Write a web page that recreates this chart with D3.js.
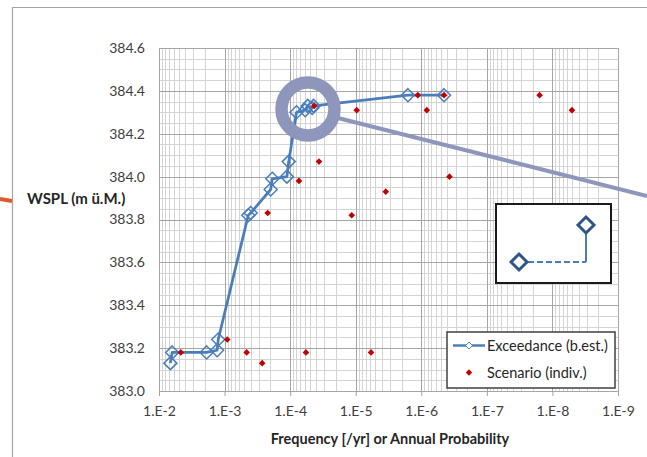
<!DOCTYPE html>
<html>
<head>
<meta charset="utf-8">
<script src="https://cdn.jsdelivr.net/npm/d3@7"></script>
<style>
  body { margin: 0; background: #fff; }
  svg { display: block; font-family: Lato, "Open Sans", sans-serif; }
</style>
</head>
<body>
<div id="container"></div>
<script>
// axis ticks
var xTicks = [1e-2, 1e-3, 1e-4, 1e-5, 1e-6, 1e-7, 1e-8, 1e-9];
var xTickLabels = ["1.E-2", "1.E-3", "1.E-4", "1.E-5", "1.E-6", "1.E-7", "1.E-8", "1.E-9"];
var yTicks = [383.0, 383.2, 383.4, 383.6, 383.8, 384.0, 384.2, 384.4, 384.6];

// Exceedance (best estimate) curve
var exceedFreq = [4.5e-7, 1.6e-6, 4.4e-5, 4.6e-5, 5.4e-5, 5.9e-5, 8.0e-5, 1.05e-4, 1.12e-4, 1.87e-4, 1.98e-4,
  4.0e-4, 4.35e-4, 1.25e-3, 1.3e-3, 1.88e-3, 6.3e-3, 6.7e-3];
var exceedLevel = [384.38, 384.38, 384.33, 384.32, 384.33, 384.31, 384.30, 384.07, 384.00, 383.99, 383.94,
  383.83, 383.82, 383.24, 383.19, 383.18, 383.18, 383.13];

// individual scenarios
var scenFreq = [4.65e-3, 9.1e-4, 4.6e-4, 2.67e-4, 5.74e-5, 2.2e-4, 1.15e-5, 4.29e-5, 9.66e-6, 3.63e-5,
  7.34e-5, 1.13e-6, 8.24e-7, 4.49e-7, 1.57e-8, 5.04e-9, 3.72e-7, 3.48e-6, 5.84e-6];
var scenLevel = [383.18, 383.24, 383.18, 383.13, 383.18, 383.83, 383.82, 384.33, 384.31, 384.07,
  383.98, 384.38, 384.31, 384.38, 384.38, 384.31, 384.00, 383.93, 383.18];

var W = 647, H = 457;
var margin = { top: 48, right: 29, bottom: 66, left: 159 };
var width = W - margin.left - margin.right,
  height = H - margin.top - margin.bottom;

var blue = "#4A7EBB", red = "#C00000", ring = "#8E97BB";

function diamond(r) {
  return "M0," + (-r) + "L" + r + ",0L0," + r + "L" + (-r) + ",0Z";
}

var svg = d3.select("#container").append("svg")
  .attr("width", W)
  .attr("height", H);

// outer frame (continues past the right/bottom edge)
svg.append("path")
  .attr("d", "M12.5," + H + "V7.5H" + W)
  .attr("fill", "none")
  .attr("stroke", "#A6A6A6")
  .attr("stroke-width", 1.2);

// orange connector on the left
svg.append("line")
  .attr("x1", 0).attr("y1", 199).attr("x2", 12).attr("y2", 201)
  .attr("stroke", "#E2572B").attr("stroke-width", 4);

var g = svg.append("g")
  .attr("transform", "translate(" + margin.left + "," + margin.top + ")");

var x = d3.scaleLog().domain([1e-2, 1e-9]).range([0, width]);
var y = d3.scaleLinear().domain([383.0, 384.6]).range([height, 0]);

// minor grid
var xMinor = [];
for (var e = -9; e < -2; e++) {
  for (var m = 2; m <= 9; m++) xMinor.push(m * Math.pow(10, e));
}
var yMinor = d3.range(0, 33).map(function (i) { return 383.0 + i * 0.05; })
  .filter(function (v, i) { return i % 4 != 0; });

g.selectAll(".xminor").data(xMinor).enter().append("line")
  .attr("x1", function (d) { return Math.round(x(d)) + 0.5; })
  .attr("x2", function (d) { return Math.round(x(d)) + 0.5; })
  .attr("y1", 0).attr("y2", height)
  .attr("stroke", "#D4D4D4");

g.selectAll(".yminor").data(yMinor).enter().append("line")
  .attr("y1", function (d) { return Math.round(y(d)) + 0.5; })
  .attr("y2", function (d) { return Math.round(y(d)) + 0.5; })
  .attr("x1", 0).attr("x2", width)
  .attr("stroke", "#D4D4D4");

// major grid
g.selectAll(".xmajor").data(xTicks).enter().append("line")
  .attr("x1", function (d) { return Math.round(x(d)) + 0.5; })
  .attr("x2", function (d) { return Math.round(x(d)) + 0.5; })
  .attr("y1", 0).attr("y2", height)
  .attr("stroke", "#A6A6A6");

g.selectAll(".ymajor").data(yTicks).enter().append("line")
  .attr("y1", function (d) { return Math.round(y(d)) + 0.5; })
  .attr("y2", function (d) { return Math.round(y(d)) + 0.5; })
  .attr("x1", 0).attr("x2", width)
  .attr("stroke", "#A6A6A6");

// X axis
var xAxis = d3.axisBottom(x)
  .tickValues(xTicks)
  .tickSize(5)
  .tickSizeOuter(0)
  .tickPadding(10)
  .tickFormat(function (d, i) { return xTickLabels[i]; });

var gx = g.append("g")
  .attr("transform", "translate(0," + height + ")")
  .call(xAxis);
gx.select(".domain").attr("stroke", "#A6A6A6");
gx.selectAll(".tick line").attr("stroke", "#A6A6A6");
gx.selectAll("text").attr("font-size", 14).attr("fill", "#404040")
  .attr("font-family", "Lato, sans-serif");

// Y axis
var yAxis = d3.axisLeft(y)
  .tickValues(yTicks)
  .tickSize(0)
  .tickPadding(14)
  .tickFormat(d3.format(".1f"));

var gy = g.append("g").call(yAxis);
gy.select(".domain").attr("stroke", "#A6A6A6");
gy.selectAll("text").attr("font-size", 14).attr("fill", "#404040")
  .attr("font-family", "Lato, sans-serif");

// axis titles
svg.append("text")
  .attr("x", 390).attr("y", 444)
  .attr("text-anchor", "middle")
  .attr("font-size", 14.5).attr("font-weight", "bold").attr("fill", "#262626")
  .text("Frequency [/yr] or Annual Probability");

svg.append("text")
  .attr("x", 27).attr("y", 204)
  .attr("font-size", 15).attr("font-weight", "bold").attr("fill", "#262626")
  .text("WSPL (m ü.M.)");

// exceedance line
var valueline = d3.line()
  .x(function (d) { return x(d[0]); })
  .y(function (d) { return y(d[1]); });

var exceed = exceedFreq.map(function (f, i) { return [f, exceedLevel[i]]; });
var scen = scenFreq.map(function (f, i) { return [f, scenLevel[i]]; });

g.append("path")
  .attr("d", valueline(exceed))
  .attr("fill", "none")
  .attr("stroke", blue)
  .attr("stroke-width", 2.75)
  .attr("stroke-linejoin", "round");

g.selectAll(".ex").data(exceed).enter().append("path")
  .attr("d", diamond(6.5))
  .attr("transform", function (d) { return "translate(" + x(d[0]) + "," + y(d[1]) + ")"; })
  .attr("fill", "none")
  .attr("stroke", blue)
  .attr("stroke-width", 1.5);

g.selectAll(".sc").data(scen).enter().append("path")
  .attr("d", diamond(3.3))
  .attr("transform", function (d) { return "translate(" + x(d[0]) + "," + y(d[1]) + ")"; })
  .attr("fill", red);

// callout ring + pointer
svg.append("line")
  .attr("x1", 334).attr("y1", 117).attr("x2", W).attr("y2", 196)
  .attr("stroke", ring).attr("stroke-width", 4);
svg.append("circle")
  .attr("cx", 308).attr("cy", 109).attr("r", 26.5)
  .attr("fill", "none")
  .attr("stroke", ring).attr("stroke-width", 12.5);

// inset sketch
var inset = svg.append("g").attr("transform", "translate(496,204)");
inset.append("rect")
  .attr("x", 0).attr("y", 0).attr("width", 115).attr("height", 79)
  .attr("fill", "#fff").attr("stroke", "#1a1a1a").attr("stroke-width", 2);
inset.append("path")
  .attr("d", "M32,58H90")
  .attr("stroke", blue).attr("stroke-width", 2).attr("stroke-dasharray", "6,3");
inset.append("path")
  .attr("d", "M90,58V28")
  .attr("stroke", blue).attr("stroke-width", 2);
inset.append("path")
  .attr("d", diamond(8)).attr("transform", "translate(23,58)")
  .attr("fill", "#fff").attr("stroke", "#2F5486").attr("stroke-width", 3);
inset.append("path")
  .attr("d", diamond(8)).attr("transform", "translate(90,21)")
  .attr("fill", "#fff").attr("stroke", "#2F5486").attr("stroke-width", 3);

// legend
var legend = svg.append("g").attr("transform", "translate(447,332)");
legend.append("rect")
  .attr("width", 168).attr("height", 56)
  .attr("fill", "#fff").attr("stroke", "#404040").attr("stroke-width", 1.5);
legend.append("line")
  .attr("x1", 6).attr("x2", 38).attr("y1", 13.5).attr("y2", 13.5)
  .attr("stroke", blue).attr("stroke-width", 2.5);
legend.append("path")
  .attr("d", diamond(3.5)).attr("transform", "translate(22,13.5)")
  .attr("fill", "#fff").attr("stroke", blue).attr("stroke-width", 1);
legend.append("path")
  .attr("d", diamond(3.2)).attr("transform", "translate(22,40.5)")
  .attr("fill", red);
legend.append("text")
  .attr("x", 40).attr("y", 18.5)
  .attr("font-size", 14.5).attr("fill", "#262626")
  .text("Exceedance (b.est.)");
legend.append("text")
  .attr("x", 40).attr("y", 45.5)
  .attr("font-size", 14.5).attr("fill", "#262626")
  .text("Scenario (indiv.)");
</script>
</body>
</html>
